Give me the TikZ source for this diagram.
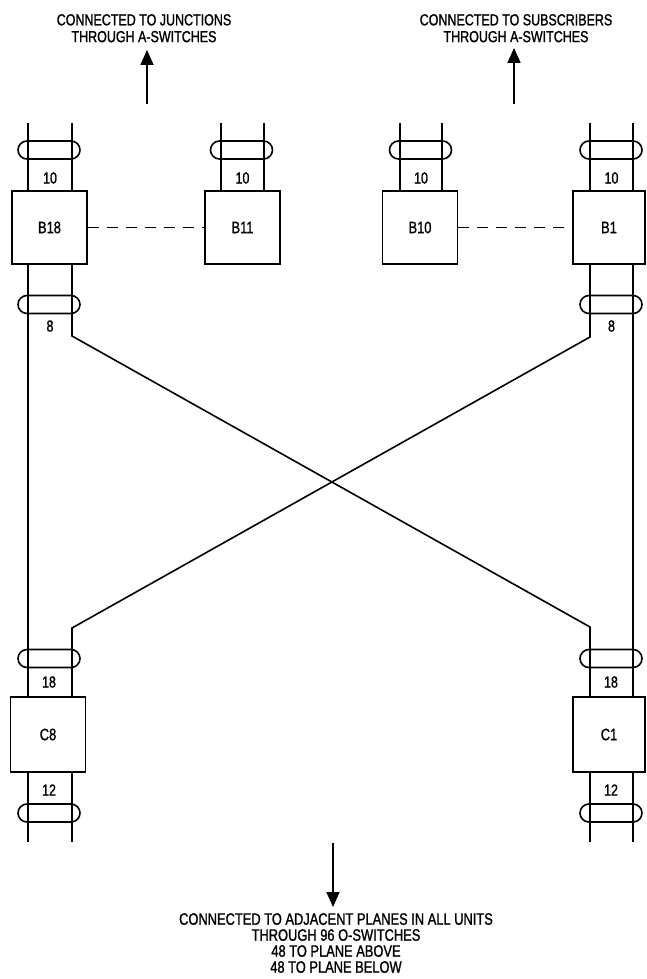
\documentclass[tikz,border=0pt]{standalone}
\usepackage{fontspec}
\newfontfamily\cnd{Liberation Sans}[FakeStretch=0.78, FakeBold=1.2]
\usetikzlibrary{arrows.meta, positioning, shapes.misc}

\begin{document}
\begin{tikzpicture}[
		x=1pt, y=-1pt,
		>={Triangle[length=15pt, width=13pt]},
		unit/.style={draw, line width=1.6pt, minimum width=75pt, minimum height=73pt, inner sep=0pt, font=\cnd\fontsize{16.5}{18}\selectfont},
		clamp/.style={draw, rounded rectangle, line width=1.6pt, minimum width=62pt, minimum height=18pt, inner sep=0pt},
		wire/.style={line width=1.6pt},
		count/.style={inner sep=0pt, font=\cnd\fontsize{16}{18}\selectfont},
		caption/.style={align=center, inner sep=0pt, font=\cnd\fontsize{16}{16.8}\selectfont},
		link/.style={line width=1.6pt, dash pattern=on 11pt off 8pt},
		feed/.style={->, line width=1.7pt}
	]
	\useasboundingbox (0,0) rectangle (646,979);

	% Switch units
	\node[unit] (b18) at (49.5,227.5) {B18};
	\node[unit] (b11) at (242.5,227.5) {B11};
	\node[unit] (b10) at (420,227.5) {B10};
	\node[unit, minimum width=72pt] (b1) at (609,227.5) {B1};
	\node[unit, minimum height=75pt] (c8) at (48,734.5) {C8};
	\node[unit, minimum width=72pt, minimum height=75pt] (c1) at (609,734.5) {C1};

	% Wire ends and bends
	\coordinate (wa) at (28,123);
	\coordinate (wb) at (72,123);
	\coordinate (wc) at (221,123);
	\coordinate (wd) at (264,123);
	\coordinate (we) at (400,123);
	\coordinate (wf) at (442,123);
	\coordinate (wg) at (590,123);
	\coordinate (wh) at (633,123);
	\coordinate (va) at (28,842);
	\coordinate (vb) at (72,842);
	\coordinate (vg) at (590,842);
	\coordinate (vh) at (633,842);
	\coordinate (kb) at (72,336);
	\coordinate (kg) at (590,337);
	\coordinate (mb) at (72,628);
	\coordinate (mg) at (590,627);

	% Clamps
	\node[clamp] (t18) at (49,150) {};
	\node[clamp] (t11) at (241.5,150) {};
	\node[clamp] (t10) at (420.5,150) {};
	\node[clamp] (t1) at (611,150) {};
	\node[clamp] (s18) at (49,304.5) {};
	\node[clamp] (s1) at (611,304.5) {};
	\node[clamp] (u8) at (49,658.5) {};
	\node[clamp] (u1) at (611,658.5) {};
	\node[clamp] (d8) at (49,813) {};
	\node[clamp] (d1) at (611,813) {};

	% Wire counts
	\node[count] (n18) at (50,178) {10};
	\node[count] (n11) at (242.5,178) {10};
	\node[count] (n10) at (421,178) {10};
	\node[count] (n1) at (611.5,178) {10};
	\node[count] (m18) at (50,326) {8};
	\node[count] (m1) at (611.5,326) {8};
	\node[count] (p8) at (49,682) {18};
	\node[count] (p1) at (611,682) {18};
	\node[count] (r8) at (49,790) {12};
	\node[count] (r1) at (611,790) {12};

	% Wires
	\foreach \w/\u in {wa/b18, wb/b18, wc/b11, wd/b11, we/b10, wf/b10, wg/b1, wh/b1}
		\draw[wire] (\w) -- (\w |- \u.north);
	\draw[wire] (wa |- b18.south) -- (wa |- c8.north);
	\draw[wire] (wh |- b1.south) -- (wh |- c1.north);
	\draw[wire] (wb |- b18.south) -- (kb) -- (mg) -- (wg |- c1.north);
	\draw[wire] (wg |- b1.south) -- (kg) -- (mb) -- (wb |- c8.north);
	\foreach \v/\u in {va/c8, vb/c8, vg/c1, vh/c1}
		\draw[wire] (\v |- \u.south) -- (\v);

	\draw[link] (b18.east) -- (b11.west);
	\draw[link] (b10.east) -- (b1.west);

	% Captions
	\node[caption, anchor=south] (jtext) at (144,42.5) {CONNECTED TO JUNCTIONS\\THROUGH A-SWITCHES};
	\node[caption, anchor=south] (stext) at (516,42.5) {CONNECTED TO SUBSCRIBERS\\THROUGH A-SWITCHES};
	\node[caption, anchor=north, font=\cnd\fontsize{16.5}{16}\selectfont] (ptext) at (336,913) {CONNECTED TO ADJACENT PLANES IN ALL UNITS\\THROUGH 96 O-SWITCHES\\48 TO PLANE ABOVE\\48 TO PLANE BELOW};

	\coordinate (ja) at (147,104);
	\coordinate (sa) at (514,104);
	\coordinate (pa) at (333,843);
	\draw[feed, shorten >=7.5pt] (ja) -- (jtext.south -| ja);
	\draw[feed, shorten >=5.5pt] (sa) -- (stext.south -| sa);
	\draw[feed, shorten >=6pt] (pa) -- (ptext.north -| pa);

\end{tikzpicture}
\end{document}
